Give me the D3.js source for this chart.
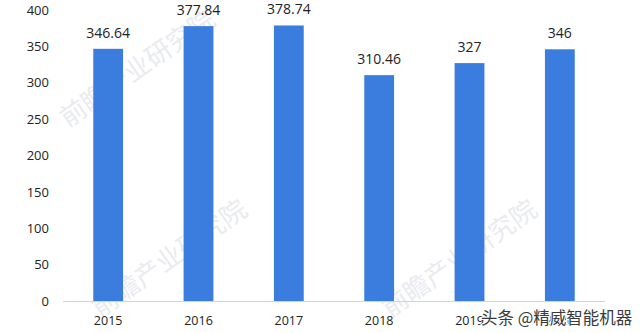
<!DOCTYPE html>
<html>
<head>
<meta charset="utf-8">
<script src="https://cdn.jsdelivr.net/npm/d3@7"></script>
<style>
	body { margin: 0; background: #fff; }
	svg { display: block; }
</style>
</head>
<body>
<div id="chart"></div>
<script>
// chart values
let years = ['2015', '2016', '2017', '2018', '2019', '2020'];
let values = [346.64, 377.84, 378.74, 310.46, 327, 346];
let valueLabels = ['346.64', '377.84', '378.74', '310.46', '327', '346'];
let yTicks = [0, 50, 100, 150, 200, 250, 300, 350, 400];

let width = 640,
	height = 333;
let margin = { top: 10, right: 35, bottom: 31, left: 63 };

let svg = d3
	.select('#chart')
	.append('svg')
	.attr('width', width)
	.attr('height', height);

// faint background watermark
let wm = svg.append('g').attr('fill', '#e9ebef').attr('font-family', "'Noto Sans CJK SC', sans-serif").attr('font-size', 26);
wm.append('text').attr('transform', 'translate(68,128) rotate(-35)').text('前瞻产业研究院');
wm.append('text').attr('transform', 'translate(100,318) rotate(-35)').text('前瞻产业研究院');
wm.append('text').attr('transform', 'translate(390,318) rotate(-35)').text('前瞻产业研究院');

let x = d3
	.scaleBand()
	.domain(years)
	.range([margin.left, width - margin.right])
	.paddingInner(0.67)
	.paddingOuter(0.335);

let y = d3
	.scaleLinear()
	.domain([0, 400])
	.range([height - margin.bottom - 1, margin.top]);

// y axis labels only
let yAxis = svg
	.append('g')
	.attr('transform', 'translate(49,0)')
	.call(d3.axisLeft(y).tickValues(yTicks).tickSize(0).tickPadding(0));
yAxis.select('.domain').remove();
yAxis.selectAll('text').attr('font-family', "'Open Sans', sans-serif").attr('font-size', 13).attr('fill', '#222');

// baseline
svg.append('line')
	.attr('x1', margin.left)
	.attr('x2', width - margin.right)
	.attr('y1', y(0) + 0.5)
	.attr('y2', y(0) + 0.5)
	.attr('stroke', '#d4d4d4');

// bars
svg.selectAll('rect.bar')
	.data(values)
	.enter()
	.append('rect')
	.attr('class', 'bar')
	.attr('x', (d, i) => x(years[i]))
	.attr('width', x.bandwidth())
	.attr('y', (d) => y(d))
	.attr('height', (d) => y(0) - y(d))
	.attr('fill', '#3b7ddf');

// value labels
svg.selectAll('text.val')
	.data(values)
	.enter()
	.append('text')
	.attr('class', 'val')
	.attr('x', (d, i) => x(years[i]) + x.bandwidth() / 2)
	.attr('y', (d) => y(d) - 11)
	.attr('text-anchor', 'middle')
	.attr('font-family', "'Open Sans', sans-serif")
	.attr('font-size', 14)
	.attr('fill', '#222')
	.text((d, i) => valueLabels[i]);

// x axis labels
svg.selectAll('text.year')
	.data(years)
	.enter()
	.append('text')
	.attr('class', 'year')
	.attr('x', (d) => x(d) + x.bandwidth() / 2)
	.attr('y', y(0) + 24)
	.attr('text-anchor', 'middle')
	.attr('font-family', "'Open Sans', sans-serif")
	.attr('font-size', 12.5)
	.attr('font-weight', 500)
	.attr('fill', '#222')
	.text((d) => d);

// source watermark
svg.append('text')
	.attr('x', 481)
	.attr('y', 324)
	.attr('font-family', "'Noto Sans CJK SC', sans-serif")
	.attr('font-size', 16.5)
	.attr('fill', '#3a3a3a')
	.attr('stroke', '#fff')
	.attr('stroke-width', 2)
	.attr('paint-order', 'stroke')
	.text('头条 @精威智能机器');
</script>
</body>
</html>
